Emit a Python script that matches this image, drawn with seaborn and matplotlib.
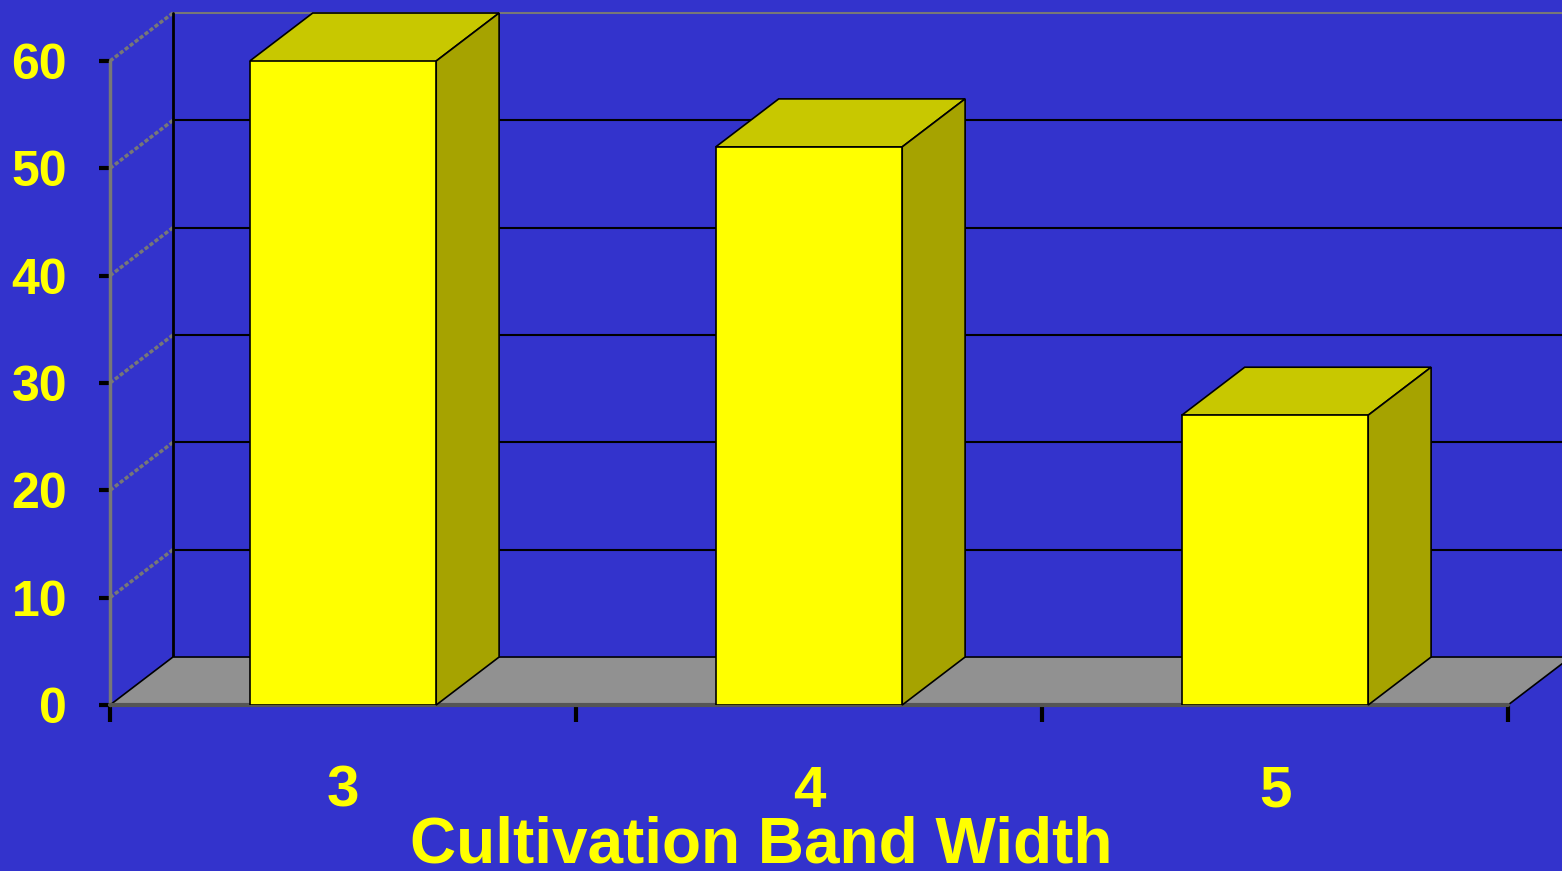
import matplotlib
matplotlib.use("Agg")
import matplotlib.pyplot as plt
from matplotlib.patches import Polygon
import seaborn as sns
import pandas as pd

# ---- data ----
categories = ["3", "4", "5"]
values = [60, 52, 27]
y_ticks = [0, 10, 20, 30, 40, 50, 60]
x_label = "Cultivation Band Width"

# ---- style ----
BG = "#3333CC"
FRONT = "#FFFF00"
TOP = "#C8C800"
SIDE = "#A6A300"
FLOOR = "#919191"
TXT = "#FFFF00"
DX, DY = 0.135, 4.47   # 3D depth offset in data units

sns.set_theme(style="white")
plt.rcParams['font.family'] = ['Liberation Sans', 'DejaVu Sans']

fig = plt.figure(figsize=(15.62, 8.71), dpi=100)
fig.patch.set_facecolor(BG)
ax = fig.add_axes([110/1562, 1-705/871, 1398/1562, 644/871])
ax.set_facecolor(BG)
ax.patch.set_alpha(0)

df = pd.DataFrame({"cat": categories, "val": values})
sns.barplot(data=df, x="cat", y="val", order=categories, color=FRONT,
            width=0.4, edgecolor="black", linewidth=1.2, saturation=1,
            ax=ax, zorder=5)

ax.set_xlim(-0.5, 2.5)
ax.set_ylim(0, 60)

x0, x1 = -0.5, 2.5
# back wall gridlines and frame
for t in y_ticks[1:]:
    ax.plot([x0 + DX, x1 + DX + 0.3], [t + DY, t + DY],
            color="black" if t < 60 else "#777777", lw=1.5,
            clip_on=False, zorder=1)
    ax.plot([x0, x0 + DX], [t, t + DY], color="#777777", lw=2.5,
            ls=(0, (1.2, 0.6)), clip_on=False, zorder=1)
ax.plot([x0 + DX, x0 + DX], [DY, 60 + DY], color="black", lw=2,
        clip_on=False, zorder=1)
ax.plot([x0, x0], [0, 60], color="#777777", lw=2.5, clip_on=False, zorder=1)

# floor
floor = Polygon([[x0, 0], [x1, 0], [x1 + DX, DY], [x0 + DX, DY]],
                closed=True, facecolor=FLOOR, edgecolor="black", lw=1.2,
                clip_on=False, zorder=2)
ax.add_patch(floor)
ax.plot([x0, x1], [0, 0], color="#555555", lw=3, clip_on=False, zorder=3)

# 3D faces of bars
for p in list(ax.patches):
    if p is floor:
        continue
    bx = p.get_x()
    bw = p.get_width()
    bh = p.get_height()
    top = Polygon([[bx, bh], [bx + bw, bh], [bx + bw + DX, bh + DY], [bx + DX, bh + DY]],
                  closed=True, facecolor=TOP, edgecolor="black", lw=1.2,
                  clip_on=False, zorder=4)
    side = Polygon([[bx + bw, 0], [bx + bw + DX, DY], [bx + bw + DX, bh + DY], [bx + bw, bh]],
                   closed=True, facecolor=SIDE, edgecolor="black", lw=1.2,
                   clip_on=False, zorder=4)
    ax.add_patch(top)
    ax.add_patch(side)

for s in ax.spines.values():
    s.set_visible(False)

ax.set_yticks(y_ticks)
ax.set_yticklabels([str(t) for t in y_ticks])
ax.set_xticks(range(len(categories)))
ax.set_xticklabels(categories)
ax.set_xticks([-0.5, 0.5, 1.5, 2.5], minor=True)
ax.tick_params(axis="y", which="major", length=8, width=3, color="black",
               left=True, pad=23, labelsize=36, labelcolor=TXT)
ax.tick_params(axis="x", which="major", length=0, pad=43,
               labelsize=42, labelcolor=TXT)
ax.tick_params(axis="x", which="minor", length=12, width=3, color="black",
               bottom=True)
for lab in ax.get_yticklabels() + ax.get_xticklabels():
    lab.set_fontweight("bold")
ax.set_xlabel(x_label, fontsize=46, fontweight="bold", color=TXT)
ax.xaxis.set_label_coords(0.466, -0.171)
ax.set_ylabel("")

fig.savefig("out.png", dpi=100, facecolor=BG)
